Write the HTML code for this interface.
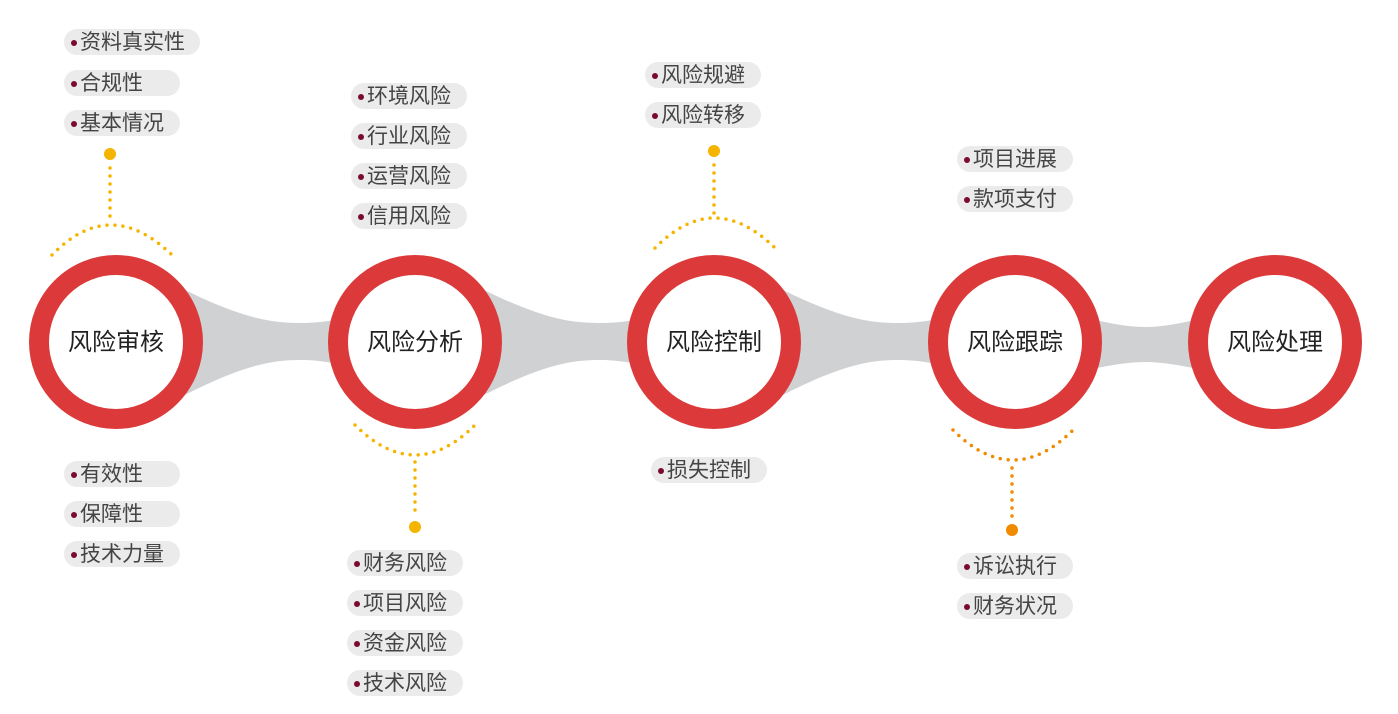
<!DOCTYPE html>
<html><head><meta charset="utf-8"><style>
body{margin:0;background:#fff;width:1398px;height:714px;overflow:hidden;position:relative;font-family:"Liberation Sans","Noto Sans CJK SC",sans-serif}
.p{position:absolute;height:26px;line-height:28px;background:#ebebeb;border-radius:13px;color:#444;font-size:21px;padding-left:16px;box-sizing:border-box;width:116px;white-space:nowrap}
.p:before{content:"";position:absolute;left:7px;top:11px;width:6px;height:6px;border-radius:50%;background:#7a0a2e}
.c{position:absolute;font-size:24px;color:#222;width:140px;text-align:center;line-height:30px}
</style></head><body>
<svg width="1398" height="714" style="position:absolute;left:0;top:0">
<g fill="#d0d1d3">
<path d="M175,285 C240,318 270,323 300,323 C330,323 360,318 430,285 L430,400 C360,366 330,360 300,360 C270,360 240,366 175,400Z"/>
<path d="M474,285 C539,318 569,323 599,323 C629,323 659,318 729,285 L729,400 C659,366 629,360 599,360 C569,360 539,366 474,400Z"/>
<path d="M773,285 C838,318 868,323 898,323 C928,323 958,318 1028,285 L1028,400 C958,366 928,360 898,360 C868,360 838,366 773,400Z"/>
<path d="M1080,316 Q1120,327 1145,327 Q1170,327 1210,316 L1210,372 Q1170,362 1145,362 Q1120,362 1080,372Z"/>
</g>
<g fill="#fff" stroke="#dc3a3a" stroke-width="20">
<circle cx="116" cy="342" r="77"/>
<circle cx="415" cy="342" r="77"/>
<circle cx="714" cy="342" r="77"/>
<circle cx="1015" cy="342" r="77"/>
<circle cx="1275" cy="342" r="77"/>
</g>
<g fill="none" stroke-linecap="round" stroke-width="3.5" stroke-dasharray="0 8">
<g stroke="#f5b400">
<path d="M110,168 L110,220"/>
<path d="M52,255 Q110,195 172,255"/>
<path d="M355,425 Q415,485 475,425"/>
<path d="M415,462 L415,515"/>
<path d="M714,165 L714,216"/>
<path d="M655,248 Q714,188 775,248"/>
</g>
<g stroke="#f08a00">
<path d="M953,430 Q1013,490 1073,430"/>
<path d="M1012,468 L1012,517"/>
</g>
</g>
<circle cx="110" cy="154" r="6" fill="#f5b400"/>
<circle cx="415" cy="527" r="6" fill="#f5b400"/>
<circle cx="714" cy="151" r="6" fill="#f5b400"/>
<circle cx="1012" cy="530" r="6" fill="#f08a00"/>
</svg>
<div class="c" style="left:46px;top:328px">风险审核</div>
<div class="c" style="left:345px;top:328px">风险分析</div>
<div class="c" style="left:644px;top:328px">风险控制</div>
<div class="c" style="left:945px;top:328px">风险跟踪</div>
<div class="c" style="left:1205px;top:328px">风险处理</div>

<div class="p" style="left:64px;top:29px;width:136px">资料真实性</div>
<div class="p" style="left:64px;top:70px">合规性</div>
<div class="p" style="left:64px;top:110px">基本情况</div>
<div class="p" style="left:64px;top:461px">有效性</div>
<div class="p" style="left:64px;top:501px">保障性</div>
<div class="p" style="left:64px;top:541px">技术力量</div>

<div class="p" style="left:351px;top:83px">环境风险</div>
<div class="p" style="left:351px;top:123px">行业风险</div>
<div class="p" style="left:351px;top:163px">运营风险</div>
<div class="p" style="left:351px;top:203px">信用风险</div>
<div class="p" style="left:347px;top:550px">财务风险</div>
<div class="p" style="left:347px;top:590px">项目风险</div>
<div class="p" style="left:347px;top:630px">资金风险</div>
<div class="p" style="left:347px;top:670px">技术风险</div>

<div class="p" style="left:645px;top:62px">风险规避</div>
<div class="p" style="left:645px;top:102px">风险转移</div>
<div class="p" style="left:651px;top:457px">损失控制</div>

<div class="p" style="left:957px;top:146px">项目进展</div>
<div class="p" style="left:957px;top:186px">款项支付</div>
<div class="p" style="left:957px;top:553px">诉讼执行</div>
<div class="p" style="left:957px;top:593px">财务状况</div>
</body></html>
